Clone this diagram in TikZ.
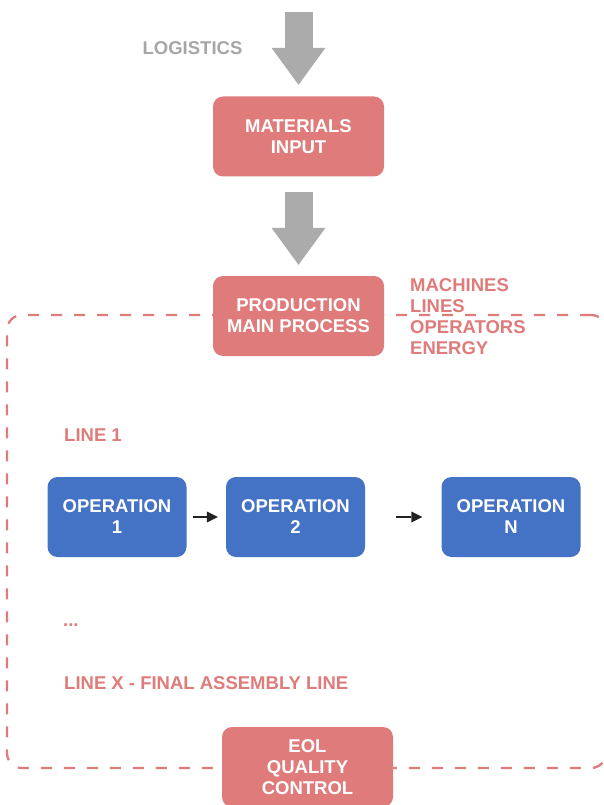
\documentclass[tikz,border=0pt]{standalone}
\usepackage{fontspec}
\setmainfont{Liberation Sans}
\usetikzlibrary{arrows.meta,positioning}

\definecolor{boxred}{RGB}{224,123,123}
\definecolor{opblue}{RGB}{68,114,196}
\definecolor{flowgray}{RGB}{171,171,171}
\definecolor{txtgray}{RGB}{166,166,166}
\definecolor{arrowblack}{RGB}{34,34,34}

\begin{document}
\begin{tikzpicture}[
    x=1pt, y=-1pt,
    font=\fontsize{18.5}{21}\selectfont\bfseries,
    >=Latex,
    blk/.style={rounded corners=10pt, align=center, text=white, inner sep=0pt,
                minimum width=171pt, minimum height=80pt},
    proc/.style={blk, fill=boxred},
    oper/.style={blk, fill=opblue, minimum width=139pt},
    lbl/.style={text=boxred, anchor=west, align=left, inner sep=0pt},
    feed/.style={flowgray, line width=28pt,
                 -{Triangle[width=54pt, length=37pt, line width=0pt]}},
    step arrow/.style={arrowblack, line width=1.5pt,
                 -{Triangle[width=11pt, length=11pt, line width=0pt]}}
  ]
  % Fondo y margenes
  \path[use as bounding box, fill=white] (0,0) rectangle (604,805);

  % Marco discontinuo de la planta
  \node[draw=boxred, line width=2.3pt, dash pattern=on 11pt off 12pt,
        rounded corners=15pt, minimum width=599pt, minimum height=453pt,
        inner sep=0pt] (plant) at (306.5,541.5) {};

  % Bloques del flujo principal
  \node[proc] (mat) at (298.5,136.5) {MATERIALS\\INPUT};
  \node[proc] (prod) at (298.5,316) {PRODUCTION\\MAIN PROCESS};
  \node[proc] (eol) at (307.5,767) {EOL\\QUALITY\\CONTROL};

  % Operaciones de la linea 1
  \node[oper] (op1) at (117,517) {OPERATION\\1};
  \node[oper] (op2) at (295.5,517) {OPERATION\\2};
  \node[oper] (opn) at (511,517) {OPERATION\\N};

  % Textos
  \node[text=txtgray, inner sep=0pt] (logi) at (192.5,48) {LOGISTICS};
  \node[lbl] (res) at (410,317) {MACHINES\\LINES\\OPERATORS\\ENERGY};
  \node[lbl] (line1) at (64,435) {LINE 1};
  \node[lbl] (dots) at (63,625) {...};
  \node[lbl] (linex) at (64,683) {LINE X - FINAL ASSEMBLY LINE};

  % Flechas grandes
  \coordinate (supply) at (298.5,12);
  \draw[feed, shorten >=11.5pt] (supply) -- (mat.north);
  \draw[feed, shorten <=15.5pt, shorten >=11pt] (mat.south) -- (prod.north);

  % Flechas entre operaciones
  \draw[step arrow, shorten <=6pt, shorten >=8pt] (op1) -- (op2);
  \draw[step arrow, shorten <=31pt, shorten >=19pt] (op2) -- (opn);

\end{tikzpicture}
\end{document}
